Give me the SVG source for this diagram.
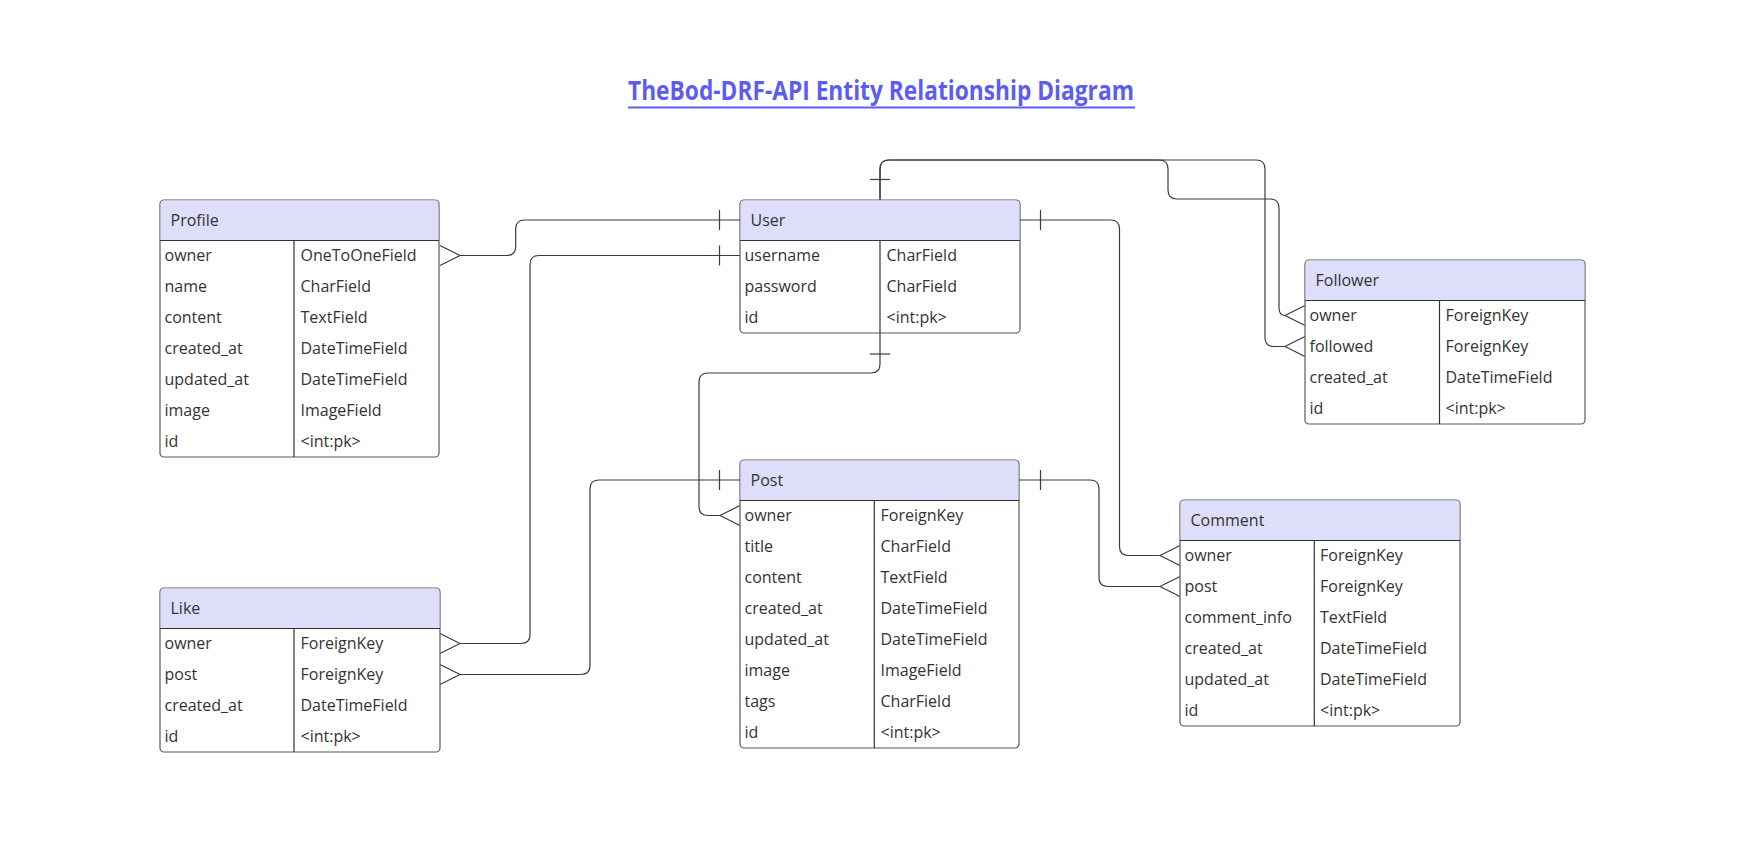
<svg xmlns="http://www.w3.org/2000/svg" width="1760" height="846" viewBox="0 0 1760 846">
<style>
  .title { font-family: "Open Sans", "Noto Sans", sans-serif; font-weight: bold; font-size: 26px; fill: #5c5cf2; }
  .box { fill: #ffffff; stroke: #5a5a5a; stroke-width: 1.2; }
  .hdr { fill: #dedefa; }
  .sep { stroke: #333; stroke-width: 1.2; fill: none; }
  .t { font-family: "Open Sans", "Noto Sans", sans-serif; font-size: 16px; fill: #333; }
  .conn path { fill: none; stroke: #3a3a48; stroke-width: 1.2; }
</style>
<rect width="1760" height="846" fill="#ffffff"/>
<g id="title">
  <text class="title" x="881" y="100" text-anchor="middle" textLength="506" lengthAdjust="spacingAndGlyphs">TheBod-DRF-API Entity Relationship Diagram</text>
  <line x1="628" y1="107.5" x2="1135" y2="107.5" stroke="#5c5cf2" stroke-width="2"/>
</g>

<g class="conn" id="connectors">
  <!-- Profile.owner -> User -->
  <path d="M460,255.5 H506.7 Q515.7,255.5 515.7,246.5 V229 Q515.7,220 524.7,220 H740"/>
  <path d="M440,245.5 L460,255.5 L440,265.5"/>
  <path d="M719.5,210 V230"/>
  <!-- Like.owner -> User.username -->
  <path d="M460,643.5 H521 Q530,643.5 530,634.5 V264.5 Q530,255.5 539,255.5 H740"/>
  <path d="M440,633.5 L460,643.5 L440,653.5"/>
  <path d="M719.5,245.5 V265.5"/>
  <!-- Like.post -> Post -->
  <path d="M460,674.5 H581 Q590,674.5 590,665.5 V489 Q590,480 599,480 H740"/>
  <path d="M440,664.5 L460,674.5 L440,684.5"/>
  <path d="M719.5,470 V490"/>
  <!-- User -> Post.owner -->
  <path d="M880,333 V364 Q880,373 871,373 H708 Q699,373 699,382 V506.5 Q699,515.5 708,515.5 H720"/>
  <path d="M740,505.5 L720,515.5 L740,525.5"/>
  <path d="M870,354 H890"/>
  <!-- User -> Comment.owner -->
  <path d="M1020,220 H1110.5 Q1119.5,220 1119.5,229 V546.5 Q1119.5,555.5 1128.5,555.5 H1160"/>
  <path d="M1180,545.5 L1160,555.5 L1180,565.5"/>
  <path d="M1040.5,210 V230"/>
  <!-- Post -> Comment.post -->
  <path d="M1019,480 H1090 Q1099,480 1099,489 V577.5 Q1099,586.5 1108,586.5 H1160"/>
  <path d="M1180,576.5 L1160,586.5 L1180,596.5"/>
  <path d="M1040.5,470 V490"/>
  <!-- User -> Follower.owner -->
  <path d="M880,200 V169 Q880,160 889,160 H1159 Q1168,160 1168,169 V190 Q1168,199 1177,199 H1270 Q1279,199 1279,208 V307.5 Q1279,315.5 1285,315.5"/>
  <path d="M1305,305.5 L1285,315.5 L1305,325.5"/>
  <!-- User -> Follower.followed -->
  <path d="M880,200 V169 Q880,160 889,160 H1256 Q1265,160 1265,169 V337.5 Q1265,346.5 1274,346.5 H1285"/>
  <path d="M1305,336.5 L1285,346.5 L1305,356.5"/>
  <path d="M870,179.5 H890"/>
</g>

<g id="Profile">
  <rect class="box" x="160" y="200" width="279" height="257" rx="4"/>
  <path class="hdr" d="M164,200.6 H435 Q438.4,200.6 438.4,204 V240 H160.6 V204 Q160.6,200.6 164,200.6 Z"/>
  <path class="sep" d="M160,240.5 H439 M294,240.5 V457"/>
  <text class="t" x="170.5" y="225.5">Profile</text>
  <text class="t" x="164.5" y="261">owner</text><text class="t" x="300.5" y="261">OneToOneField</text>
  <text class="t" x="164.5" y="292">name</text><text class="t" x="300.5" y="292">CharField</text>
  <text class="t" x="164.5" y="323">content</text><text class="t" x="300.5" y="323">TextField</text>
  <text class="t" x="164.5" y="354">created_at</text><text class="t" x="300.5" y="354">DateTimeField</text>
  <text class="t" x="164.5" y="385">updated_at</text><text class="t" x="300.5" y="385">DateTimeField</text>
  <text class="t" x="164.5" y="416">image</text><text class="t" x="300.5" y="416">ImageField</text>
  <text class="t" x="164.5" y="447">id</text><text class="t" x="300.5" y="447">&lt;int:pk&gt;</text>
</g>

<g id="User">
  <rect class="box" x="740" y="200" width="280" height="133" rx="4"/>
  <path class="hdr" d="M744,200.6 H1016 Q1019.4,200.6 1019.4,204 V240 H740.6 V204 Q740.6,200.6 744,200.6 Z"/>
  <path class="sep" d="M740,240.5 H1020 M880,240.5 V333"/>
  <text class="t" x="750.5" y="225.5">User</text>
  <text class="t" x="744.5" y="261">username</text><text class="t" x="886.5" y="261">CharField</text>
  <text class="t" x="744.5" y="292">password</text><text class="t" x="886.5" y="292">CharField</text>
  <text class="t" x="744.5" y="323">id</text><text class="t" x="886.5" y="323">&lt;int:pk&gt;</text>
</g>

<g id="Follower">
  <rect class="box" x="1305" y="260" width="280" height="164" rx="4"/>
  <path class="hdr" d="M1309,260.6 H1581 Q1584.4,260.6 1584.4,264 V300 H1305.6 V264 Q1305.6,260.6 1309,260.6 Z"/>
  <path class="sep" d="M1305,300.5 H1585 M1439.5,300.5 V424"/>
  <text class="t" x="1315.5" y="285.5">Follower</text>
  <text class="t" x="1309.5" y="321">owner</text><text class="t" x="1445.5" y="321">ForeignKey</text>
  <text class="t" x="1309.5" y="352">followed</text><text class="t" x="1445.5" y="352">ForeignKey</text>
  <text class="t" x="1309.5" y="383">created_at</text><text class="t" x="1445.5" y="383">DateTimeField</text>
  <text class="t" x="1309.5" y="414">id</text><text class="t" x="1445.5" y="414">&lt;int:pk&gt;</text>
</g>

<g id="Post">
  <rect class="box" x="740" y="460" width="279" height="288" rx="4"/>
  <path class="hdr" d="M744,460.6 H1015 Q1018.4,460.6 1018.4,464 V500 H740.6 V464 Q740.6,460.6 744,460.6 Z"/>
  <path class="sep" d="M740,500.5 H1019 M874.3,500.5 V748"/>
  <text class="t" x="750.5" y="485.5">Post</text>
  <text class="t" x="744.5" y="521">owner</text><text class="t" x="880.5" y="521">ForeignKey</text>
  <text class="t" x="744.5" y="552">title</text><text class="t" x="880.5" y="552">CharField</text>
  <text class="t" x="744.5" y="583">content</text><text class="t" x="880.5" y="583">TextField</text>
  <text class="t" x="744.5" y="614">created_at</text><text class="t" x="880.5" y="614">DateTimeField</text>
  <text class="t" x="744.5" y="645">updated_at</text><text class="t" x="880.5" y="645">DateTimeField</text>
  <text class="t" x="744.5" y="676">image</text><text class="t" x="880.5" y="676">ImageField</text>
  <text class="t" x="744.5" y="707">tags</text><text class="t" x="880.5" y="707">CharField</text>
  <text class="t" x="744.5" y="738">id</text><text class="t" x="880.5" y="738">&lt;int:pk&gt;</text>
</g>

<g id="Comment">
  <rect class="box" x="1180" y="500" width="280" height="226" rx="4"/>
  <path class="hdr" d="M1184,500.6 H1456 Q1459.4,500.6 1459.4,504 V540 H1180.6 V504 Q1180.6,500.6 1184,500.6 Z"/>
  <path class="sep" d="M1180,540.5 H1460 M1314.3,540.5 V726"/>
  <text class="t" x="1190.5" y="525.5">Comment</text>
  <text class="t" x="1184.5" y="561">owner</text><text class="t" x="1320" y="561">ForeignKey</text>
  <text class="t" x="1184.5" y="592">post</text><text class="t" x="1320" y="592">ForeignKey</text>
  <text class="t" x="1184.5" y="623">comment_info</text><text class="t" x="1320" y="623">TextField</text>
  <text class="t" x="1184.5" y="654">created_at</text><text class="t" x="1320" y="654">DateTimeField</text>
  <text class="t" x="1184.5" y="685">updated_at</text><text class="t" x="1320" y="685">DateTimeField</text>
  <text class="t" x="1184.5" y="716">id</text><text class="t" x="1320" y="716">&lt;int:pk&gt;</text>
</g>

<g id="Like">
  <rect class="box" x="160" y="588" width="280" height="164" rx="4"/>
  <path class="hdr" d="M164,588.6 H436 Q439.4,588.6 439.4,592 V628 H160.6 V592 Q160.6,588.6 164,588.6 Z"/>
  <path class="sep" d="M160,628.5 H440 M294,628.5 V752"/>
  <text class="t" x="170.5" y="613.5">Like</text>
  <text class="t" x="164.5" y="649">owner</text><text class="t" x="300.5" y="649">ForeignKey</text>
  <text class="t" x="164.5" y="680">post</text><text class="t" x="300.5" y="680">ForeignKey</text>
  <text class="t" x="164.5" y="711">created_at</text><text class="t" x="300.5" y="711">DateTimeField</text>
  <text class="t" x="164.5" y="742">id</text><text class="t" x="300.5" y="742">&lt;int:pk&gt;</text>
</g>
</svg>
